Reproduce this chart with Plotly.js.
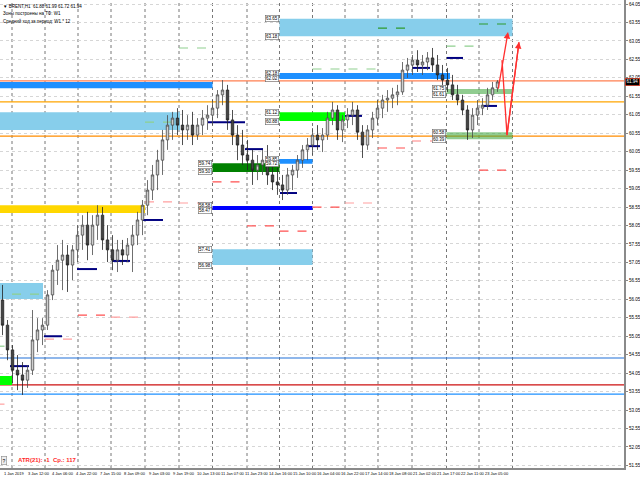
<!DOCTYPE html>
<html><head><meta charset="utf-8">
<script src="https://cdn.plot.ly/plotly-3.0.1.min.js"></script>
<style>html,body{margin:0;padding:0;background:#fff}</style>
</head><body><div id="chart" style="width:640px;height:480px"></div>
<script>
// ---- candles (H1 BRENT, sampled) ----
const open = [56.03,55.35,54.68,54.13,54.00,53.86,54.13,54.95,55.22,55.35,
56.17,56.84,57.11,57.25,56.98,57.39,57.79,58.06,57.52,58.06,
58.33,57.66,57.39,57.11,57.39,57.25,57.52,57.79,58.20,58.60,
59.01,59.42,59.82,60.37,60.77,60.96,60.77,60.64,60.77,60.50,
60.77,60.96,61.04,61.23,61.59,61.72,60.91,60.50,60.23,59.96,
59.82,59.55,59.69,59.82,59.42,59.23,59.15,59.01,59.42,59.55,
59.82,60.10,60.23,60.50,60.37,60.50,60.96,61.18,60.64,60.91,
61.04,61.18,60.58,60.23,60.64,60.96,61.23,61.45,61.50,61.59,
61.67,62.26,62.40,62.53,62.40,62.48,62.59,62.40,62.13,61.99,
61.86,61.59,61.45,61.18,60.64,61.04,61.23,61.31,61.59,61.78];
const high = [56.44,55.49,54.81,54.54,54.35,54.27,55.76,55.54,55.54,56.30,
56.98,57.52,57.66,57.52,57.52,58.06,58.33,58.42,58.33,58.60,
58.55,58.06,57.79,57.66,57.66,57.71,58.06,58.42,58.74,59.28,
59.69,60.10,60.64,61.04,61.13,61.23,61.18,61.04,61.13,60.96,
61.18,61.31,61.45,61.72,61.99,61.86,61.18,60.77,60.64,60.37,
60.10,59.96,60.10,60.23,59.82,59.61,59.42,59.61,59.69,59.96,
60.23,60.42,60.69,60.77,60.69,61.13,61.40,61.31,61.04,61.23,
61.40,61.31,60.77,60.77,61.13,61.45,61.59,61.72,61.78,61.86,
62.48,62.59,62.67,62.80,62.67,62.75,62.86,62.67,62.40,62.32,
62.13,61.86,61.59,61.31,61.23,61.45,61.50,61.78,61.94,61.99];
const low = [55.08,54.40,53.78,53.59,53.46,53.65,54.00,54.62,54.81,55.22,
56.03,56.44,56.30,56.25,56.57,57.06,57.39,57.11,57.25,57.66,
57.39,57.06,56.84,56.79,56.98,57.06,56.79,57.52,57.79,58.33,
58.74,59.01,59.42,60.10,60.37,60.50,60.23,60.37,60.23,60.37,
60.50,60.64,60.77,60.96,61.31,60.64,60.23,59.82,59.69,59.55,
59.15,59.28,59.42,59.15,59.01,58.88,58.74,58.88,59.01,59.34,
59.61,59.82,59.96,60.10,60.04,60.37,60.77,60.37,60.31,60.69,
60.77,60.37,59.88,60.10,60.42,60.77,60.96,61.13,61.23,61.31,
61.59,62.05,62.13,62.21,62.13,62.26,62.21,61.99,61.72,61.67,
61.45,61.31,61.04,60.37,60.42,60.77,61.04,61.18,61.45,61.67];
const close = [55.35,54.68,54.13,54.00,53.86,54.13,54.95,55.22,55.35,56.17,
56.84,57.11,57.25,56.98,57.39,57.79,58.06,57.52,58.06,58.33,
57.66,57.39,57.11,57.39,57.25,57.52,57.79,58.20,58.60,59.01,
59.42,59.82,60.37,60.77,60.96,60.77,60.64,60.77,60.50,60.77,
60.96,61.04,61.23,61.59,61.72,60.91,60.50,60.23,59.96,59.82,
59.55,59.69,59.82,59.42,59.23,59.15,59.01,59.42,59.55,59.82,
60.10,60.23,60.50,60.37,60.50,60.96,61.18,60.64,60.91,61.04,
61.18,60.58,60.23,60.64,60.96,61.23,61.45,61.50,61.59,61.67,
62.26,62.40,62.53,62.40,62.48,62.59,62.40,62.13,61.99,61.86,
61.59,61.45,61.18,60.64,61.04,61.23,61.31,61.59,61.78,61.94];

// ---- axis labels ----
const timeLabels = ["1 Jan 2019","3 Jan 12:00","4 Jan 06:00","4 Jan 22:00","7 Jan 15:00","8 Jan 09:00",
"9 Jan 03:00","9 Jan 19:00","10 Jan 13:00","11 Jan 07:00","11 Jan 23:00","14 Jan 16:00","15 Jan 10:00",
"16 Jan 04:00","16 Jan 22:00","17 Jan 14:00","18 Jan 08:00","21 Jan 02:00","21 Jan 17:00","22 Jan 11:00","23 Jan 05:00"];
const timeLabelBars = [-0.1,4.7,9.5,14.3,19.1,23.9,28.8,33.6,38.4,43.2,48.0,52.8,57.6,62.4,67.2,72.0,76.9,81.7,86.5,91.3,96.1];
const priceTicks = [64.05,63.55,63.05,62.55,62.05,61.55,61.05,60.55,60.05,59.55,59.05,58.55,58.05,
57.55,57.05,56.55,56.05,55.55,55.05,54.55,54.05,53.55,53.05,52.55,52.05,51.55];
const daySeparators = [1.9,8.5,15.1,21.7,28.5,35.3,42.0,48.9,55.4,62.0,68.5,75.1,81.9,88.8,95.3,102.0];

// ---- zones ----
const zoneX0 = [55.4,55.4,-5,-5,55.4,-5,42.0,55.4,42.0,42.0,-5,-5,88.8,88.8];
const zoneX1 = [102.0,89.5,42.0,35.5,68.5,28.5,55.4,62.0,62.0,62.0,8.1,1.9,102.0,102.0];
const zoneHi = [63.65,62.18,61.94,61.12,61.12,58.60,59.74,59.85,58.58,57.41,56.49,53.97,61.75,60.58];
const zoneLo = [63.18,62.02,61.77,60.64,60.88,58.39,59.50,59.72,58.47,56.98,56.06,53.73,61.61,60.39];

// ---- full-width levels ----
const levelPrice = [61.97,61.40,60.47,54.46,53.73,53.48];

// ---- daily pivot (navy) segments ----
const pivX0 = [1.5,8.3,14.9,21.9,28.1,41.1,48.5,55.5,60.9,68.5,81.9,88.9,95.9];
const pivX1 = [5.3,11.9,18.9,25.5,32.1,48.5,52.1,58.9,63.5,71.9,85.5,92.1,98.9];
const pivP  = [54.24,55.05,56.87,57.09,58.20,60.85,60.12,58.93,60.20,61.02,62.32,62.59,61.29];

// ---- green dashed (upper targets) ----
const gX0 = [-5,1.9,28.5,35.3,62.0,88.8, 75.1,95.3];
const gX1 = [1.9,8.5,35.3,42.0,75.1,95.3,81.9,102.0];
const gP  = [54.78,56.19,60.85,62.86,62.29,62.91,63.40,63.51];
// ---- red dashed (lower targets) ----
const rX0 = [-5,8.5,15.1,21.7,28.5,35.3,42.0,48.9,55.4,62.0,68.5,75.1,81.9,95.3];
const rX1 = [1.9,15.1,21.7,28.5,35.3,42.0,48.9,55.4,62.0,68.5,75.1,81.9,88.8,102.0];
const rP  = [53.21,54.97,55.62,55.57,58.69,58.66,59.23,58.04,57.90,58.55,58.66,60.15,60.34,59.55];

// ---- forecast arrows ----
const arrow1X = [99.1,101.1], arrow1P = [61.72,63.29];
const arrow2X = [99.9,100.9,103.3], arrow2P = [62.53,60.50,63.02];
const lastPrice = 61.94;

// ---------- build ----------
const xs = open.map((_, i) => i);
const traces = [{
  type:'candlestick', x: xs, open, high, low, close,
  increasing:{line:{color:'#4a4a4a',width:0.8}, fillcolor:'#cfcfcf'},
  decreasing:{line:{color:'#222',width:0.8}, fillcolor:'#454545'},
  whiskerwidth:0, hoverinfo:'skip', showlegend:false
}];

const shapes = [];
daySeparators.forEach(b => shapes.push({type:'line', xref:'x', yref:'paper', x0:b, x1:b, y0:0, y1:1,
  line:{color:'#777', width:1, dash:'dot'}, layer:'between'}));
const levelColors = ['#ff7f50','#ffa500','#ff8c00','#2070d8','#cc1010','#1e90ff'];
levelPrice.forEach((p,i) => shapes.push({type:'line', xref:'paper', yref:'y', x0:0, x1:1, y0:p, y1:p,
  line:{color:levelColors[i], width:1.2}, layer:'between'}));
const zoneColors = ['#87ceeb','#1e90ff','#1e90ff','#87ceeb','#00ff00','#ffd700','#008000','#1e90ff',
  '#0000ff','#87ceeb','#87ceeb','#00ff00','rgba(70,170,70,0.6)','rgba(70,170,70,0.6)'];
zoneX0.forEach((x0,i) => shapes.push({type:'rect', xref:'x', yref:'y', x0, x1:zoneX1[i], y0:zoneLo[i], y1:zoneHi[i],
  fillcolor:zoneColors[i], line:{width:0}, layer:'between'}));
pivP.forEach((p,i) => shapes.push({type:'line', xref:'x', yref:'y', x0:pivX0[i], x1:pivX1[i], y0:p, y1:p,
  line:{color:'#000080', width:2}, layer:'between'}));
const gCol = ['#8fcf8f','#8fcf8f','#8fcf8f','#8fcf8f','#8fcf8f','#8fcf8f','#2e9a2e','#2e9a2e'];
gP.forEach((p,i) => shapes.push({type:'line', xref:'x', yref:'y', x0:gX0[i], x1:gX1[i], y0:p, y1:p,
  line:{color:gCol[i], width:1.2, dash:'dash'}, layer:'between'}));
const rCol = ['#ffa0a0','#ffa0a0','#ff5050','#ffa0a0','#ffa0a0','#ffa0a0','#ff5050','#ff5050','#ff5050','#ff5050','#ffa0a0','#ff5050','#ff8080','#ff5050'];
rP.forEach((p,i) => shapes.push({type:'line', xref:'x', yref:'y', x0:rX0[i], x1:rX1[i], y0:p, y1:p,
  line:{color:rCol[i], width:1.2, dash:'dash'}, layer:'between'}));
for (let k=0;k<arrow2X.length-1;k++) shapes.push({type:'line', xref:'x', yref:'y', x0:arrow2X[k], x1:arrow2X[k+1],
  y0:arrow2P[k], y1:arrow2P[k+1], line:{color:'#ff3030', width:1.3}, layer:'above'});

const annotations = [];
const fnt = 'Liberation Sans, Arial, sans-serif';
annotations.push({x:arrow1X[1], y:arrow1P[1], ax:arrow1X[0], ay:arrow1P[0], axref:'x', ayref:'y', xref:'x', yref:'y',
  text:'', showarrow:true, arrowhead:2, arrowsize:1, arrowwidth:1.3, arrowcolor:'#ff3030'});
const n2 = arrow2X.length;
annotations.push({x:arrow2X[n2-1], y:arrow2P[n2-1], ax:arrow2X[n2-2], ay:arrow2P[n2-2], axref:'x', ayref:'y', xref:'x', yref:'y',
  text:'', showarrow:true, arrowhead:2, arrowsize:1, arrowwidth:1.3, arrowcolor:'#ff3030'});
const labeled = [1,1,0,0,1,0,1,1,1,1,0,0,1,1];
zoneX0.forEach((x0,i) => {
  if (!labeled[i]) return;
  [zoneHi[i], zoneLo[i]].forEach(p => annotations.push({x:x0, y:p, xref:'x', yref:'y', xanchor:'right', yanchor:'middle',
    xshift:-1, text:p.toFixed(2), showarrow:false, font:{family:fnt, size:4.5, color:'#000'},
    bgcolor:'#fff', bordercolor:'#666', borderwidth:0.6, borderpad:0.5}));
});
timeLabels.forEach((t,i) => annotations.push({x:timeLabelBars[i], y:0, xref:'x', yref:'paper', xanchor:'left', yanchor:'top',
  yshift:-1, text:t, showarrow:false, font:{family:fnt, size:4, color:'#000'}}));
const header = ['\u25BC BRENT,H1  61.88 61.99 61.72 61.94', 'Зоны построены на ТФ: W1', 'Средний ход за период: W1 * 12'];
header.forEach((t,i) => annotations.push({x:0, y:1, xref:'paper', yref:'paper', xanchor:'left', yanchor:'top',
  xshift:1, yshift:-2 - i*7, text:t, showarrow:false, font:{family:fnt, size:4.5, color:'#000'}}));
annotations.push({x:0, y:0, xref:'paper', yref:'paper', xanchor:'left', yanchor:'bottom', xshift:1, yshift:3,
  text:'?', showarrow:false, font:{family:fnt, size:5, color:'#000'}, bgcolor:'#eee', bordercolor:'#888', borderwidth:0.6, borderpad:1});
annotations.push({x:0, y:0, xref:'paper', yref:'paper', xanchor:'left', yanchor:'bottom', xshift:16, yshift:3,
  text:'<b>ATR(21): -1  Ср.: 117</b>', showarrow:false, font:{family:fnt, size:6, color:'#ff2a2a'}});
annotations.push({x:1, y:lastPrice, xref:'paper', yref:'y', xanchor:'left', yanchor:'middle', xshift:1,
  text:lastPrice.toFixed(2), showarrow:false, font:{family:fnt, size:4.5, color:'#fff'}, bgcolor:'#000',
  bordercolor:'#ff4020', borderwidth:0.6, borderpad:0.8});

const layout = {
  width:640, height:480, margin:{l:0, r:16, t:0, b:12},
  paper_bgcolor:'#fff', plot_bgcolor:'#fff', showlegend:false,
  xaxis:{range:[-0.5,124.3], showgrid:false, zeroline:false, showticklabels:false, ticks:'',
    showline:true, linecolor:'#8a8a8a', linewidth:2, rangeslider:{visible:false}, fixedrange:true},
  yaxis:{range:[51.48,64.16], side:'right', tickvals:priceTicks, ticktext:priceTicks.map(v=>v.toFixed(2)),
    tickfont:{family:fnt, size:4.5, color:'#000'}, ticks:'outside', ticklen:2, tickcolor:'#888',
    showgrid:true, gridcolor:'#d6d6d6', griddash:'dot', zeroline:false,
    showline:true, linecolor:'#8a8a8a', linewidth:2, fixedrange:true},
  shapes, annotations
};
Plotly.newPlot('chart', traces, layout, {staticPlot:true, displayModeBar:false});
</script></body></html>
